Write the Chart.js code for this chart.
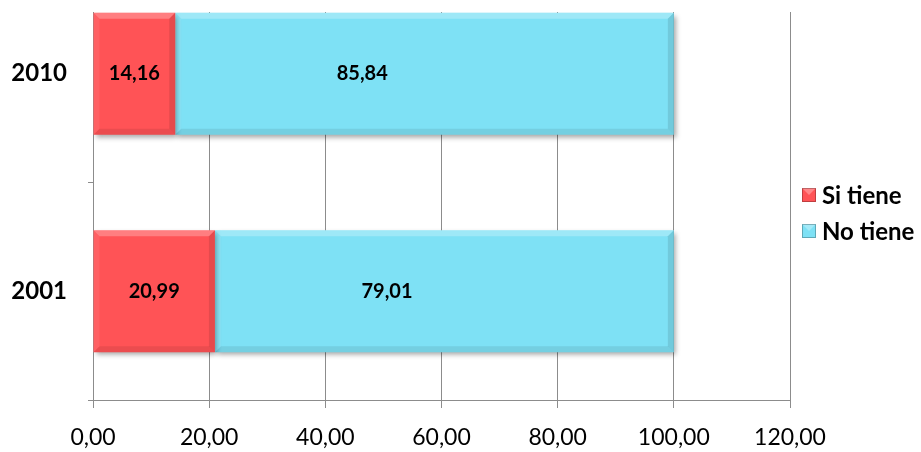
<!DOCTYPE html>
<html>
<head>
<meta charset="utf-8">
<script src="https://cdn.jsdelivr.net/npm/chart.js@4/dist/chart.umd.min.js"></script>
<style>
  html, body { margin:0; padding:0; background:#fff; }
  #wrap { position:absolute; left:0; top:12px; width:921px; height:440px; overflow:hidden; }
  #box { position:absolute; left:0; top:-47px; width:921px; height:487px; }
</style>
</head>
<body>
<div id="wrap"><div id="box"><canvas id="c"></canvas></div></div>
<script>
const categories = ['2010', '2001'];
const siTiene = [14.16, 20.99];
const noTiene = [85.84, 79.01];
const seriesNames = ['Si tiene', 'No tiene'];
const xTickValues = [0, 20, 40, 60, 80, 100, 120];

const fmt = v => v.toFixed(2).replace('.', ',');
const FONT = 'Lato, "Liberation Sans", sans-serif';

const bevelPlugin = {
  id: 'bevel',
  beforeDatasetsDraw(chart) {
    const ctx = chart.ctx;
    ctx.save();
    ctx.shadowColor = 'rgba(0,0,0,0.35)';
    ctx.shadowBlur = 5;
    ctx.shadowOffsetX = 2;
    ctx.shadowOffsetY = 3;
  },
  afterDatasetsDraw(chart) {
    const ctx = chart.ctx;
    ctx.restore();
    const b = 6;
    chart.data.datasets.forEach((ds, di) => {
      chart.getDatasetMeta(di).data.forEach(el => {
        const x0 = Math.min(el.base, el.x), x1 = Math.max(el.base, el.x);
        const y0 = el.y - el.height / 2, y1 = el.y + el.height / 2;
        const poly = (pts, col) => {
          ctx.beginPath();
          ctx.moveTo(pts[0][0], pts[0][1]);
          pts.slice(1).forEach(p => ctx.lineTo(p[0], p[1]));
          ctx.closePath();
          ctx.fillStyle = col;
          ctx.fill();
        };
        poly([[x0, y0], [x1, y0], [x1 - b, y0 + b], [x0 + b, y0 + b]], 'rgba(255,255,255,0.25)');
        poly([[x0, y0], [x0 + b, y0 + b], [x0 + b, y1 - b], [x0, y1]], 'rgba(255,255,255,0.08)');
        poly([[x0, y1], [x0 + b, y1 - b], [x1 - b, y1 - b], [x1, y1]], 'rgba(0,0,0,0.08)');
        poly([[x1, y0], [x1, y1], [x1 - b, y1 - b], [x1 - b, y0 + b]], 'rgba(0,0,0,0.1)');
      });
    });
  }
};

const labelPlugin = {
  id: 'valueLabels',
  afterDatasetsDraw(chart) {
    const ctx = chart.ctx;
    ctx.save();
    ctx.font = 'bold 20px ' + FONT;
    ctx.fillStyle = '#000';
    ctx.textAlign = 'center';
    ctx.textBaseline = 'middle';
    chart.data.datasets.forEach((ds, di) => {
      const frac = ds.labelAnchor;
      chart.getDatasetMeta(di).data.forEach((el, i) => {
        const x = el.base + (el.x - el.base) * frac;
        ctx.fillText(fmt(ds.data[i]), x, el.y);
      });
    });
    ctx.restore();
  }
};

const legendPlugin = {
  id: 'sideLegend',
  afterDraw(chart) {
    const ctx = chart.ctx;
    ctx.save();
    ctx.font = 'bold 24px ' + FONT;
    ctx.textBaseline = 'middle';
    ctx.textAlign = 'left';
    const startY = 230, step = 36, bx = 802, size = 14;
    chart.data.datasets.forEach((ds, di) => {
      const y = startY + di * step;
      ctx.fillStyle = ds.backgroundColor;
      ctx.fillRect(bx, y - size / 2, size, size);
      ctx.fillStyle = 'rgba(255,255,255,0.3)';
      ctx.beginPath();
      ctx.moveTo(bx, y - size / 2); ctx.lineTo(bx + size, y - size / 2);
      ctx.lineTo(bx + size / 2, y); ctx.closePath(); ctx.fill();
      ctx.strokeStyle = 'rgba(0,0,0,0.25)';
      ctx.lineWidth = 1;
      ctx.strokeRect(bx + 0.5, y - size / 2 + 0.5, size - 1, size - 1);
      ctx.fillStyle = '#000';
      ctx.fillText(ds.label, bx + size + 6, y + 1);
    });
    ctx.restore();
  }
};

new Chart(document.getElementById('c'), {
  type: 'bar',
  data: {
    labels: categories,
    datasets: [
      { label: seriesNames[0], data: siTiene, backgroundColor: '#FF5356', labelAnchor: 0.5 },
      { label: seriesNames[1], data: noTiene, backgroundColor: '#7EE1F5', labelAnchor: 0.375 }
    ]
  },
  options: {
    indexAxis: 'y',
    responsive: true,
    maintainAspectRatio: false,
    animation: false,
    layout: { padding: { left: 0, right: 131, top: 0, bottom: 0 } },
    datasets: { bar: { categoryPercentage: 1.0, barPercentage: 0.56, borderWidth: 0 } },
    plugins: { legend: { display: false }, tooltip: { enabled: false } },
    scales: {
      x: {
        stacked: true,
        min: 0, max: 120,
        afterBuildTicks: s => { s.ticks = xTickValues.map(v => ({ value: v })); },
        afterFit: s => { s.height = 52; s.paddingLeft = 0; s.paddingRight = 0; },
        grid: { color: '#8c8c8c', lineWidth: 1, tickLength: 8, drawTicks: true },
        border: { color: '#8c8c8c' },
        ticks: {
          padding: 16,
          color: '#000',
          font: { family: FONT, size: 23 },
          callback: v => fmt(v),
          maxRotation: 0
        }
      },
      y: {
        stacked: true,
        afterFit: s => { s.width = 93; s.paddingTop = 0; s.paddingBottom = 0; },
        grid: { drawOnChartArea: false, offset: true, tickLength: 5, color: '#8c8c8c' },
        border: { color: '#8c8c8c' },
        ticks: {
          padding: 21,
          color: '#000',
          font: { family: FONT, size: 24, weight: 'bold' }
        }
      }
    }
  },
  plugins: [bevelPlugin, labelPlugin, legendPlugin]
});
</script>
</body>
</html>
